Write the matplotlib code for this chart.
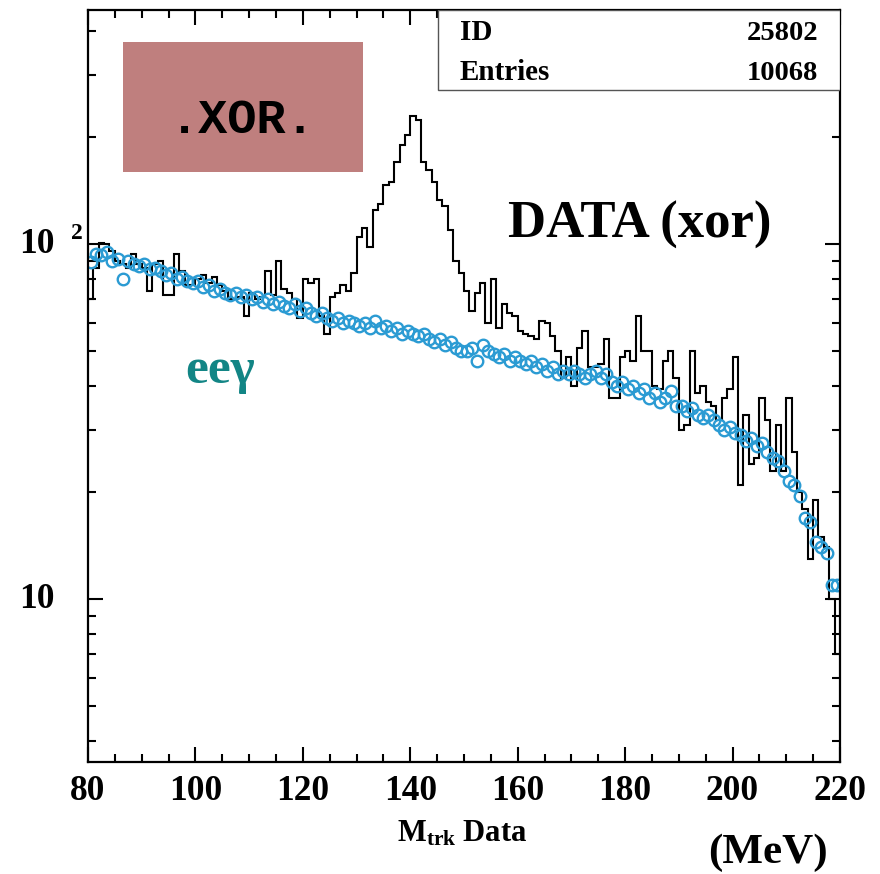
import matplotlib

matplotlib.use("Agg")
import matplotlib.pyplot as plt
import numpy as np
from matplotlib.patches import Rectangle
from matplotlib.ticker import FixedLocator, LogLocator, MultipleLocator, NullFormatter
import matplotlib.transforms as mtransforms

# 1 MeV bins from 80 to 220
bin_edges = list(range(80, 221))

data_counts = [
    70, 86, 101, 100, 96, 90, 88, 86, 94, 88,
    86, 74, 88, 90, 72, 72, 94, 84, 77, 77,
    80, 82, 78, 81, 77, 74, 70, 70, 71, 63,
    73, 70, 71, 84, 72, 90, 75, 73, 70, 62,
    80, 78, 80, 63, 56, 71, 73, 77, 74, 83,
    105, 111, 98, 125, 130, 147, 150, 170, 190, 203,
    230, 224, 171, 162, 150, 133, 128, 110, 90, 83,
    74, 65, 73, 78, 60, 80, 58, 68, 64, 63,
    57, 56, 55, 54, 61, 60, 55, 50, 42, 48,
    40, 51, 57, 45, 45, 46, 54, 37, 37, 48,
    50, 47, 63, 50, 50, 40, 39, 47, 50, 42,
    30, 31, 50, 38, 40, 36, 35, 32, 37, 39,
    48, 21, 33, 24, 25, 37, 32, 23, 31, 23,
    37, 26, 20, 18, 13, 19, 15, 14, 10, 7,
]

eeg_counts = [
    89, 94, 93, 95, 90, 91, 80, 90, 88, 87,
    88, 85, 86, 84, 82, 83, 80, 81, 79, 78,
    79, 76, 77, 74, 75, 73, 72, 73, 71, 72,
    70, 71, 69, 70, 68, 69, 67, 66, 68, 65,
    66, 64, 63, 64, 62, 61, 62, 60, 61, 60,
    59, 60, 58, 61, 58, 59, 57, 58, 56, 57,
    56, 55, 56, 54, 53, 54, 52, 53, 51, 50,
    50, 51, 47, 52, 50, 49, 48, 49, 47, 48,
    47, 46, 47, 45, 46, 44, 45, 43, 44, 43,
    44, 43, 42, 43, 44, 42, 43, 41, 40, 41,
    39, 40, 38, 39, 37, 38, 36, 37, 38.5, 35,
    35, 34, 34.5, 33, 32.5, 33, 32, 31, 30, 30.5,
    29.5, 29, 28, 28.5, 27, 27.5, 26, 25, 24.5, 23,
    21.5, 21, 19.5, 17, 16.5, 14.5, 14, 13.5, 11, 11,
]

x_major = [80, 100, 120, 140, 160, 180, 200, 220]
stats_names = ["ID", "Entries"]
stats_values = ["25802", "10068"]

plt.rcParams["font.family"] = ["Liberation Serif", "DejaVu Serif"]
plt.rcParams["font.weight"] = "bold"
plt.rcParams["mathtext.fontset"] = "custom"
plt.rcParams["mathtext.rm"] = "Liberation Serif:bold"
plt.rcParams["mathtext.it"] = "Liberation Serif:bold"
plt.rcParams["mathtext.bf"] = "Liberation Serif:bold"

fig = plt.figure(figsize=(8.8, 8.74), dpi=100)
fig.patch.set_facecolor("white")
ax = fig.add_axes([0.1, 0.128, 0.8545, 0.8606])

centers = np.array(bin_edges[:-1]) + 0.5
ax.stairs(data_counts, bin_edges, baseline=None, color="black", linewidth=1.5)
ax.plot(centers, eeg_counts, linestyle="none", marker="o", markersize=8.3,
        markerfacecolor="none", markeredgecolor="#2b9bd3", markeredgewidth=1.7)

ax.set_yscale("log")
ax.set_xlim(80, 220)
ax.set_ylim(3.48, 457)

ax.xaxis.set_major_locator(FixedLocator(x_major))
ax.xaxis.set_minor_locator(MultipleLocator(5))
ax.yaxis.set_major_locator(FixedLocator([10, 100]))
ax.yaxis.set_minor_locator(LogLocator(base=10, subs=np.arange(2, 10)))
ax.yaxis.set_major_formatter(NullFormatter())
ax.yaxis.set_minor_formatter(NullFormatter())

ax.tick_params(which="both", direction="in", top=True, right=True, width=1.5)
ax.tick_params(which="major", length=11)
ax.tick_params(which="minor", length=5.5)
ax.tick_params(axis="x", which="major", labelsize=25.5, pad=9)
for lab in ax.get_xticklabels():
    lab.set_fontweight("bold")
for s in ax.spines.values():
    s.set_linewidth(1.6)

# y tick labels in the PAW style: 10 and 10 ^2
trans = mtransforms.blended_transform_factory(fig.transFigure, ax.transData)
ax.text(55 / 880, 10, "10", transform=trans, ha="right", va="center",
        fontsize=25.5, fontweight="bold")
ax.text(55 / 880, 100, "10", transform=trans, ha="right", va="center",
        fontsize=25.5, fontweight="bold")
ax.text(71 / 880, 100, "2", transform=trans, ha="left", va="bottom",
        fontsize=17, fontweight="bold")

# stats box
ax.add_patch(Rectangle((0.4655, 0.8936), 0.5345, 0.1064, transform=ax.transAxes,
                       facecolor="white", edgecolor="#555555", linewidth=1.0, zorder=3))
ax.text(0.4947, 0.960, stats_names[0], transform=ax.transAxes, fontsize=21,
        fontweight="bold", va="baseline", zorder=4)
ax.text(0.4947, 0.9069, stats_names[1], transform=ax.transAxes, fontsize=21,
        fontweight="bold", va="baseline", zorder=4)
ax.text(0.9707, 0.960, stats_values[0], transform=ax.transAxes, fontsize=20.5,
        fontweight="bold", va="baseline", ha="right", zorder=4)
ax.text(0.9707, 0.9069, stats_values[1], transform=ax.transAxes, fontsize=20.5,
        fontweight="bold", va="baseline", ha="right", zorder=4)

# .XOR. label
ax.add_patch(Rectangle((0.0465, 0.7846), 0.319, 0.1728, transform=ax.transAxes,
                       facecolor="#bf7f7e", edgecolor="none", zorder=3))
ax.text(0.2061, 0.8537, ".XOR.", transform=ax.transAxes, ha="center", va="center",
        fontsize=35, fontweight="bold", family="Liberation Mono", zorder=4)

ax.text(0.734, 0.714, "DATA (xor)", transform=ax.transAxes, ha="center", va="center",
        fontsize=38, fontweight="bold")
ax.text(0.129, 0.504, "ee\u03b3", transform=ax.transAxes, ha="left", va="baseline",
        fontsize=37, fontweight="bold", color="#128585")

fig.text(462 / 880, 1 - 841 / 874, r"$\mathrm{M}_{\mathrm{trk}}$ Data", ha="center",
         va="baseline", fontsize=22, fontweight="bold")
fig.text(828 / 880, 1 - 863 / 874, "(MeV)", ha="right", va="baseline",
         fontsize=31, fontweight="bold")

fig.savefig("out.png", dpi=100)
